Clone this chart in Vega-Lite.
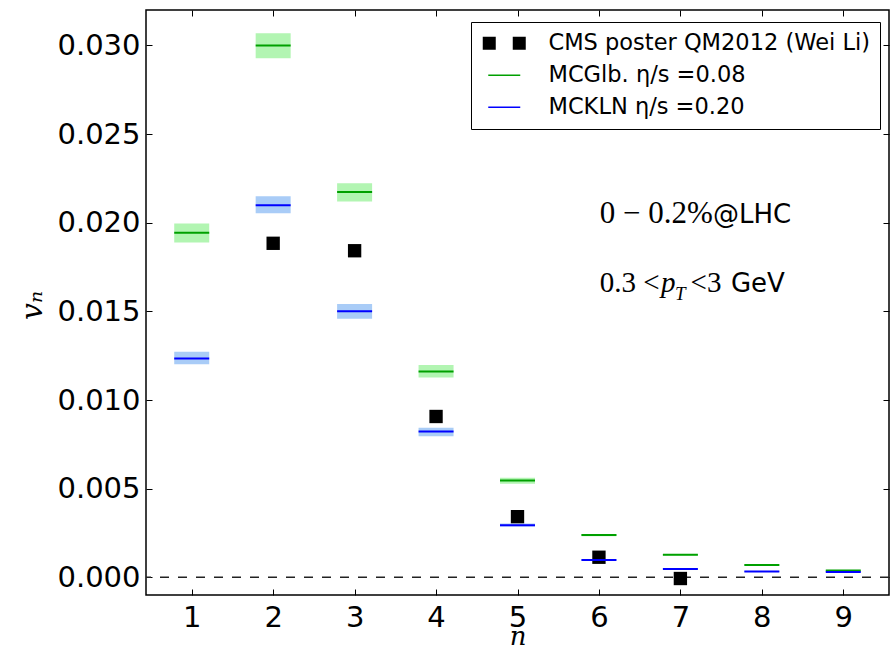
{
  "$schema": "https://vega.github.io/schema/vega-lite/v6.json",
  "width": 743,
  "height": 585,
  "autosize": {"type": "none"},
  "padding": {"left": 146, "top": 10, "right": 7, "bottom": 53},
  "background": "white",
  "config": {
    "view": {"stroke": "black", "strokeWidth": 1.5},
    "axis": {"grid": false, "domain": false, "tickColor": "black", "tickWidth": 1, "tickSize": -6, "labelColor": "black", "labelFont": "DejaVu Sans", "labelFontSize": 29, "labelOverlap": false, "labelFlush": false},
    "legend": {"labelFont": "DejaVu Sans", "labelFontSize": 22.5, "labelColor": "black", "labelLimit": 0, "padding": 10, "cornerRadius": 0, "symbolSize": 400, "symbolOffset": 12, "labelOffset": 33, "rowPadding": 9}
  },
  "data": {"values": [
    {"n": 1, "series": "MCGlb. η/s =0.08", "v": 0.01944, "lo": 0.01889, "hi": 0.01996},
    {"n": 2, "series": "MCGlb. η/s =0.08", "v": 0.0300, "lo": 0.02928, "hi": 0.03069},
    {"n": 3, "series": "MCGlb. η/s =0.08", "v": 0.02173, "lo": 0.0212, "hi": 0.02223},
    {"n": 4, "series": "MCGlb. η/s =0.08", "v": 0.01161, "lo": 0.01127, "hi": 0.01197},
    {"n": 5, "series": "MCGlb. η/s =0.08", "v": 0.00546, "lo": 0.00527, "hi": 0.00561},
    {"n": 6, "series": "MCGlb. η/s =0.08", "v": 0.00238, "lo": 0.00232, "hi": 0.00244},
    {"n": 7, "series": "MCGlb. η/s =0.08", "v": 0.00127, "lo": 0.00123, "hi": 0.00131},
    {"n": 8, "series": "MCGlb. η/s =0.08", "v": 0.00069, "lo": 0.00066, "hi": 0.00072},
    {"n": 9, "series": "MCGlb. η/s =0.08", "v": 0.00038, "lo": 0.00036, "hi": 0.0004},
    {"n": 1, "series": "MCKLN η/s =0.20", "v": 0.01234, "lo": 0.01201, "hi": 0.01272},
    {"n": 2, "series": "MCKLN η/s =0.20", "v": 0.02099, "lo": 0.02053, "hi": 0.0215},
    {"n": 3, "series": "MCKLN η/s =0.20", "v": 0.01501, "lo": 0.01459, "hi": 0.01542},
    {"n": 4, "series": "MCKLN η/s =0.20", "v": 0.00823, "lo": 0.00795, "hi": 0.00844},
    {"n": 5, "series": "MCKLN η/s =0.20", "v": 0.00294, "lo": 0.00287, "hi": 0.00304},
    {"n": 6, "series": "MCKLN η/s =0.20", "v": 0.00098, "lo": 0.00095, "hi": 0.00101},
    {"n": 7, "series": "MCKLN η/s =0.20", "v": 0.00047, "lo": 0.00045, "hi": 0.00049},
    {"n": 8, "series": "MCKLN η/s =0.20", "v": 0.00032, "lo": 0.0003, "hi": 0.00034},
    {"n": 9, "series": "MCKLN η/s =0.20", "v": 0.0003, "lo": 0.00028, "hi": 0.00032},
    {"n": 2, "series": "CMS poster QM2012 (Wei Li)", "v": 0.01884},
    {"n": 3, "series": "CMS poster QM2012 (Wei Li)", "v": 0.01842},
    {"n": 4, "series": "CMS poster QM2012 (Wei Li)", "v": 0.00907},
    {"n": 5, "series": "CMS poster QM2012 (Wei Li)", "v": 0.00342},
    {"n": 6, "series": "CMS poster QM2012 (Wei Li)", "v": 0.00113},
    {"n": 7, "series": "CMS poster QM2012 (Wei Li)", "v": -0.00007}
  ]},
  "layer": [
    {
      "data": {"values": [{}]},
      "mark": {"type": "rule", "color": "#222222", "strokeWidth": 1.5, "strokeDash": [9, 9]},
      "encoding": {
        "y": {"datum": 0, "type": "quantitative", "scale": {"domain": [-0.001, 0.032], "nice": false, "zero": false}, "axis": null}
      }
    },
    {
      "transform": [{"filter": "isValid(datum.lo)"}],
      "mark": {"type": "bar", "width": 35},
      "encoding": {
        "x": {"field": "n", "type": "quantitative", "scale": {"domain": [0.5, 9.5], "nice": false, "zero": false}, "axis": null},
        "y": {"field": "lo", "type": "quantitative", "scale": {"domain": [-0.001, 0.032], "nice": false, "zero": false}, "axis": null},
        "y2": {"field": "hi"},
        "fill": {"field": "series", "type": "nominal", "scale": {"domain": ["MCKLN η/s =0.20", "MCGlb. η/s =0.08"], "range": ["#a9ccf7", "#b2f5b2"]}, "legend": null}
      }
    },
    {
      "transform": [{"filter": "!isValid(datum.lo)"}],
      "mark": {"type": "point", "shape": "square", "filled": true, "size": 178, "color": "black"},
      "encoding": {
        "x": {"field": "n", "type": "quantitative", "scale": {"domain": [0.5, 9.5], "nice": false, "zero": false},
          "axis": {"orient": "top", "values": [1, 2, 3, 4, 5, 6, 7, 8, 9], "labels": false, "title": null}},
        "y": {"field": "v", "type": "quantitative", "scale": {"domain": [-0.001, 0.032], "nice": false, "zero": false},
          "axis": {"orient": "right", "values": [0, 0.005, 0.01, 0.015, 0.02, 0.025, 0.03], "labels": false, "title": null}},
        "opacity": {"field": "series", "type": "nominal", "scale": {"domain": ["CMS poster QM2012 (Wei Li)"], "range": [1]},
          "legend": {"orient": "none", "legendX": 325, "legendY": 12, "title": ["\u00a0", "\u00a0"], "titleOrient": "bottom", "titleFontSize": 21, "titleLineHeight": 31, "titlePadding": 12, "strokeColor": "black",
            "symbolType": "M-2.15,-0.65H-0.85V0.65H-2.15Z M0.85,-0.65H2.15V0.65H0.85Z", "symbolFillColor": "black", "symbolStrokeColor": "black", "symbolStrokeWidth": 0}}
      }
    },
    {
      "transform": [{"filter": "isValid(datum.lo)"}],
      "mark": {"type": "tick", "orient": "horizontal", "size": 35, "thickness": 2, "opacity": 1},
      "encoding": {
        "x": {"field": "n", "type": "quantitative", "scale": {"domain": [0.5, 9.5], "nice": false, "zero": false},
          "axis": {"orient": "bottom", "values": [1, 2, 3, 4, 5, 6, 7, 8, 9], "labelPadding": 14, "title": "n", "titleFont": "DejaVu Serif", "titleFontStyle": "italic", "titleFontWeight": "normal", "titleFontSize": 26, "titleColor": "black", "titleX": 371.5, "titleY": 49, "titleBaseline": "alphabetic"}},
        "y": {"field": "v", "type": "quantitative", "scale": {"domain": [-0.001, 0.032], "nice": false, "zero": false},
          "axis": {"orient": "left", "values": [0, 0.005, 0.01, 0.015, 0.02, 0.025, 0.03], "format": ".3f", "labelPadding": 12, "title": "vₙ", "titleFont": "DejaVu Serif", "titleFontStyle": "italic", "titleFontWeight": "normal", "titleFontSize": 30, "titleColor": "black", "titleAngle": -90, "titleX": -114, "titleY": 295, "titleAlign": "center", "titleBaseline": "middle"}},
        "color": {"field": "series", "type": "nominal",
          "scale": {"domain": ["MCGlb. η/s =0.08", "MCKLN η/s =0.20"], "range": ["#00a000", "#0000ff"]},
          "legend": {"orient": "none", "legendX": 325, "legendY": 44, "title": null, "symbolType": "M-1.6,-0.075H1.6V0.075H-1.6Z"}
        }
      }
    },
    {
      "data": {"values": [{}]},
      "mark": {"type": "text", "align": "left", "baseline": "alphabetic", "font": "Liberation Serif", "fontSize": 31, "color": "black"},
      "encoding": {"x": {"datum": 6.011, "type": "quantitative", "axis": null}, "y": {"datum": 0.01998, "type": "quantitative", "axis": null}, "text": {"value": "0 − 0.2%"}}
    },
    {
      "data": {"values": [{}]},
      "mark": {"type": "text", "align": "left", "baseline": "alphabetic", "font": "DejaVu Sans", "fontSize": 26, "color": "black"},
      "encoding": {"x": {"datum": 7.4, "type": "quantitative", "axis": null}, "y": {"datum": 0.01998, "type": "quantitative", "axis": null}, "text": {"value": "@LHC"}}
    },
    {
      "data": {"values": [{}]},
      "mark": {"type": "text", "align": "left", "baseline": "alphabetic", "font": "Liberation Serif", "fontSize": 29, "color": "black"},
      "encoding": {"x": {"datum": 6.011, "type": "quantitative", "axis": null}, "y": {"datum": 0.01609, "type": "quantitative", "axis": null}, "text": {"value": "0.3 <"}}
    },
    {
      "data": {"values": [{}]},
      "mark": {"type": "text", "align": "left", "baseline": "alphabetic", "font": "Liberation Serif", "fontStyle": "italic", "fontSize": 29, "color": "black"},
      "encoding": {"x": {"datum": 6.762, "type": "quantitative", "axis": null}, "y": {"datum": 0.01609, "type": "quantitative", "axis": null}, "text": {"value": "p"}}
    },
    {
      "data": {"values": [{}]},
      "mark": {"type": "text", "align": "left", "baseline": "alphabetic", "font": "Liberation Serif", "fontStyle": "italic", "fontSize": 19, "color": "black"},
      "encoding": {"x": {"datum": 6.935, "type": "quantitative", "axis": null}, "y": {"datum": 0.01564, "type": "quantitative", "axis": null}, "text": {"value": "T"}}
    },
    {
      "data": {"values": [{}]},
      "mark": {"type": "text", "align": "left", "baseline": "alphabetic", "font": "Liberation Serif", "fontSize": 29, "color": "black"},
      "encoding": {"x": {"datum": 7.125, "type": "quantitative", "axis": null}, "y": {"datum": 0.01609, "type": "quantitative", "axis": null}, "text": {"value": "<3"}}
    },
    {
      "data": {"values": [{}]},
      "mark": {"type": "text", "align": "left", "baseline": "alphabetic", "font": "DejaVu Sans", "fontSize": 26, "color": "black"},
      "encoding": {"x": {"datum": 7.62, "type": "quantitative", "axis": null}, "y": {"datum": 0.01609, "type": "quantitative", "axis": null}, "text": {"value": "GeV"}}
    }
  ],
  "resolve": {"axis": {"x": "independent", "y": "independent"}}
}
